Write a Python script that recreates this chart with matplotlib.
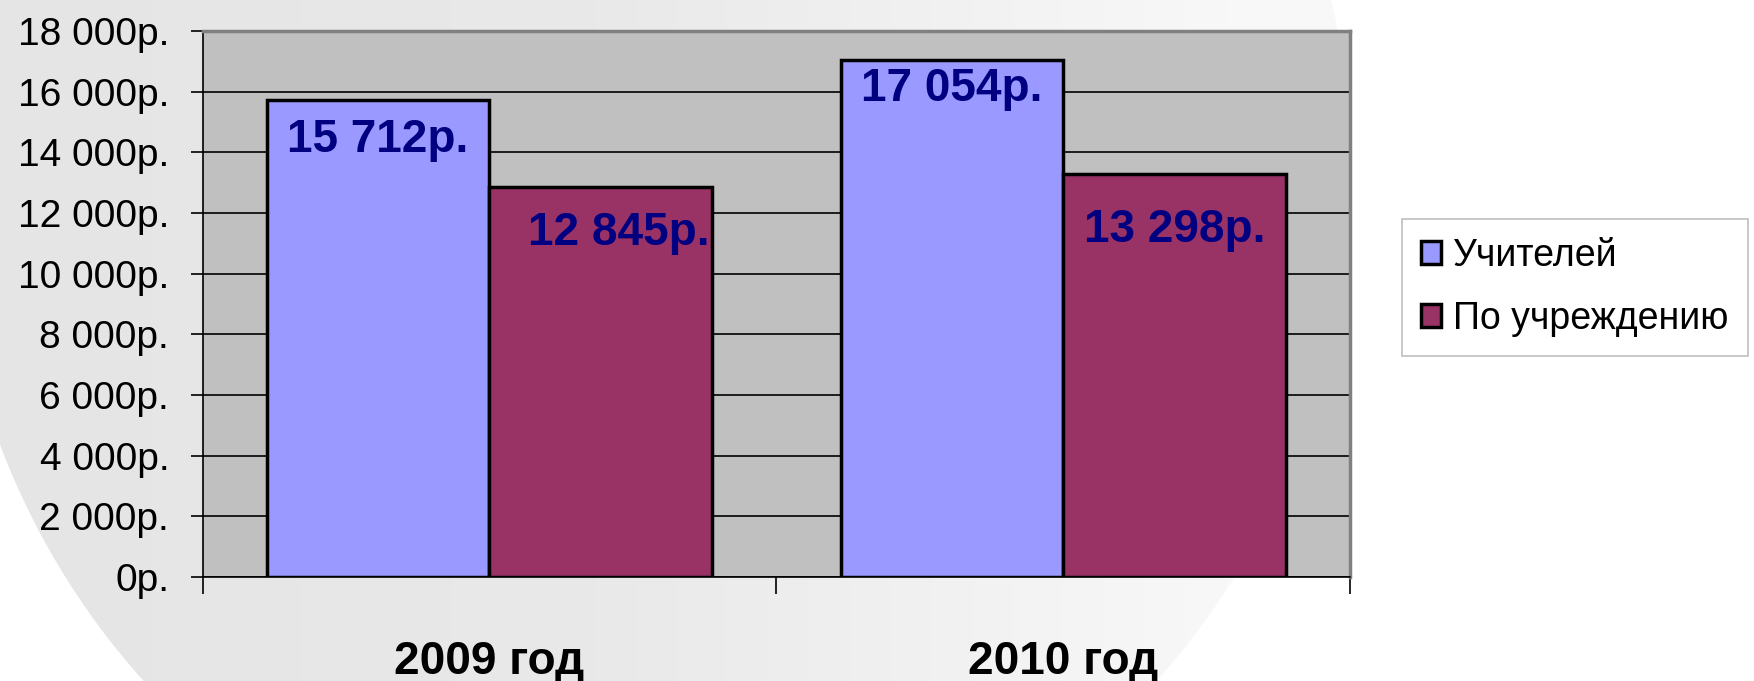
import numpy as np
import matplotlib
matplotlib.use("Agg")
import matplotlib.pyplot as plt
from matplotlib import font_manager
from matplotlib.colors import LinearSegmentedColormap
from matplotlib.patches import Ellipse

categories = ["2009 год", "2010 год"]
series_names = ["Учителей", "По учреждению"]
teachers = [15712, 17054]
institution = [12845, 13298]
y_ticks = list(range(0, 18001, 2000))


def rub(v):
    return f"{v:,.0f}".replace(",", " ") + "р."


installed = {f.name for f in font_manager.fontManager.ttflist}
base_font = "Liberation Sans" if "Liberation Sans" in installed else "DejaVu Sans"
plt.rcParams["font.family"] = [base_font, "DejaVu Sans"]

W, H = 1754, 681
fig = plt.figure(figsize=(W / 100, H / 100), dpi=100)
fig.patch.set_facecolor("white")

# slide background: big light-grey oval on white, fading to the right
bg = fig.add_axes([0, 0, 1, 1], zorder=-10)
bg.set_xlim(0, W)
bg.set_ylim(H, 0)
bg.axis("off")
cmap = LinearSegmentedColormap.from_list(
    "bg", [(0, "#e5e5e5"), (0.34, "#e9e9e9"), (0.7, "#f8f8f8"), (1, "#fbfbfb")])
img = bg.imshow(np.linspace(0, 1, 256)[None, :], extent=(0, W, H, 0), cmap=cmap,
                aspect="auto", zorder=1)
oval = Ellipse((650, 170), 1400, 1480, facecolor="none", edgecolor="none",
               transform=bg.transData)
bg.add_patch(oval)
img.set_clip_path(oval)

left, right, top, bottom = 202.5, 1350, 31, 577
ax = fig.add_axes([left / W, 1 - bottom / H, (right - left) / W, (bottom - top) / H])
ax.set_facecolor("#c0c0c0")

x = np.arange(len(categories))
width = 0.388
b1 = ax.bar(x - width / 2, teachers, width, color="#9999ff", edgecolor="black",
            linewidth=2.5, label=series_names[0], zorder=3)
b2 = ax.bar(x + width / 2, institution, width, color="#993366", edgecolor="black",
            linewidth=2.5, label=series_names[1], zorder=3)

ax.set_xlim(-0.5, len(categories) - 0.5)
ax.set_ylim(0, 18000)
ax.set_yticks(y_ticks, [rub(v) for v in y_ticks])
ax.yaxis.grid(True, color="black", linewidth=1.2)
ax.set_axisbelow(True)
ax.tick_params(axis="y", length=9, width=1.2, pad=15, labelsize=28)
ax.set_xticks(np.arange(len(categories) + 1) - 0.5, [""] * (len(categories) + 1))
ax.tick_params(axis="x", length=12, width=1.2)

# category names under each group
ax.set_xticks(x, categories, minor=True)
ax.tick_params(axis="x", which="minor", length=0, pad=45, labelsize=33)
for lab in ax.get_xticklabels(minor=True):
    lab.set_fontweight("bold")

for side in ["left", "bottom"]:
    ax.spines[side].set_color("black")
    ax.spines[side].set_linewidth(1.2)
for side in ["top", "right"]:
    ax.spines[side].set_color("#808080")
    ax.spines[side].set_linewidth(2.5)

# value labels inside the bar tops
label_shift = [[(0, 18), (0, 7)], [(18, 24), (0, 34)]]
for bars, vals, shifts in zip([b1, b2], [teachers, institution], label_shift):
    for rect, v, (dx, dy) in zip(bars, vals, shifts):
        ax.annotate(rub(v), (rect.get_x() + rect.get_width() / 2, v), xytext=(dx, -dy),
                    textcoords="offset pixels", ha="center", va="top", fontsize=33,
                    fontweight="bold", color="#000080", zorder=4)

leg = fig.legend(handles=[b1, b2], loc="upper left", bbox_to_anchor=(1402 / W, 1 - 219 / H),
                 fontsize=27, handlelength=0.55, handleheight=0.55, handletextpad=0.32,
                 labelspacing=0.72, borderpad=0.5, borderaxespad=0, fancybox=False,
                 framealpha=1, edgecolor="#bfbfbf")
leg.get_frame().set_linewidth(1.2)

fig.savefig("out.png", dpi=100)
